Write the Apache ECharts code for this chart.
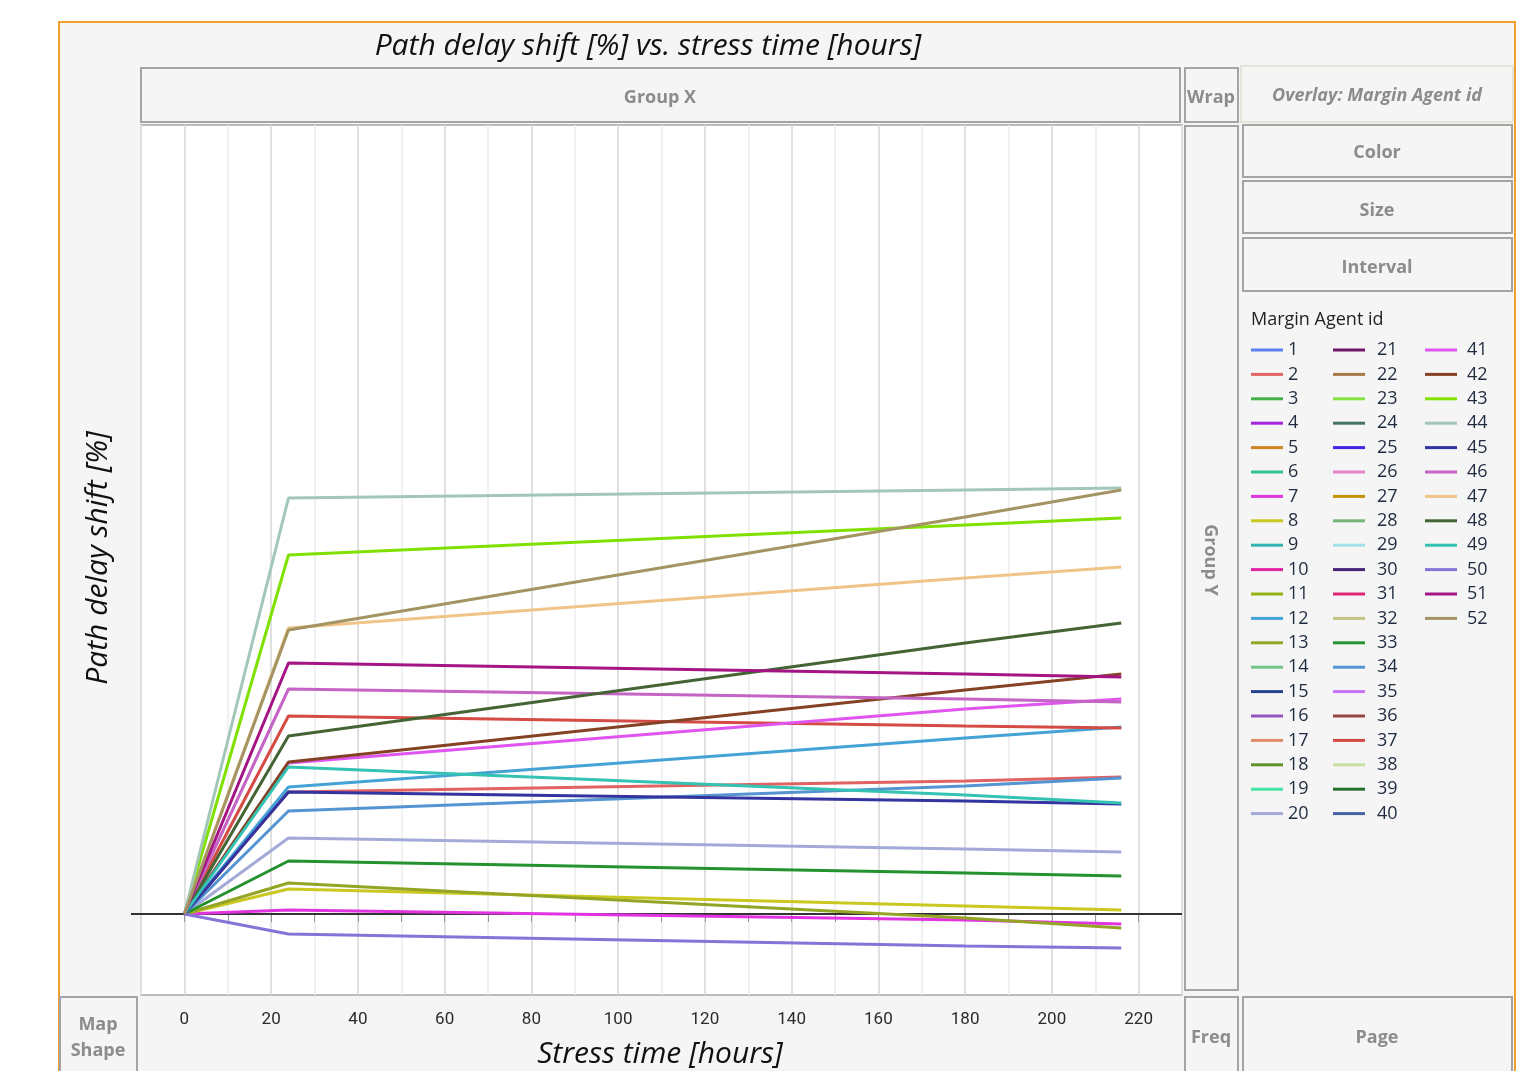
<!DOCTYPE html>
<html>
<head>
<meta charset="utf-8">
<script src="https://cdn.jsdelivr.net/npm/echarts@6/dist/echarts.min.js"></script>
<style>
html,body{margin:0;padding:0;background:#fff;}
#c{width:1537px;height:1071px;}
</style>
</head>
<body>
<div id="c"></div>
<script>
// ---- data ----
const hours = [0, 24, 180, 216];
const xTickLabels = ['0','20','40','60','80','100','120','140','160','180','200','220'];
const agentIds = ['1','2','3','4','5','6','7','8','9','10','11','12','13','14','15','16','17','18','19','20',
  '21','22','23','24','25','26','27','28','29','30','31','32','33','34','35','36','37','38','39','40',
  '41','42','43','44','45','46','47','48','49','50','51','52'];
const agentColors = ['#5b80ee','#e06262','#44b04a','#a424e0','#d08424','#34c096','#e034e0','#c8c820','#34b2b2','#e024a0',
  '#94b414','#44a2d4','#94a424','#74c488','#24428e','#9454c0','#e28a6a','#64902a','#44e4a4','#a4aad8',
  '#701466','#a87844','#84e444','#447464','#4424e4','#e084c4','#c09404','#74b474','#a4e0e8','#442474',
  '#e02474','#c4c484','#24922e','#5494d0','#c474f4','#944444','#d44a44','#c8e0a4','#24722e','#4462a4',
  '#e054f0','#844224','#80e000','#a2c6b8','#3434a0','#c464c4','#f0c488','#446434','#34c2b2','#8474d8',
  '#a41484','#a49464'];
// zero-shift reference line (value 0 across the frame)
const zeroLine = [[0, 0], [1, 0]];

// Path delay shift [%] per agent at hours 0, 24, 180, 216
const agent2  = [0, 1.22, 1.33, 1.37];
const agent7  = [0, 0.04, -0.06, -0.10];
const agent8  = [0, 0.25, 0.08, 0.04];
const agent12 = [0, 1.27, 1.76, 1.87];
const agent13 = [0, 0.31, -0.04, -0.14];
const agent20 = [0, 0.76, 0.65, 0.62];
const agent33 = [0, 0.53, 0.41, 0.38];
const agent34 = [0, 1.03, 1.28, 1.36];
const agent37 = [0, 1.98, 1.88, 1.86];
const agent41 = [0, 1.51, 2.05, 2.15];
const agent42 = [0, 1.52, 2.24, 2.40];
const agent43 = [0, 3.59, 3.89, 3.96];
const agent44 = [0, 4.16, 4.24, 4.26];
const agent45 = [0, 1.22, 1.13, 1.10];
const agent46 = [0, 2.25, 2.15, 2.12];
const agent47 = [0, 2.86, 3.36, 3.47];
const agent48 = [0, 1.78, 2.71, 2.91];
const agent49 = [0, 1.47, 1.19, 1.11];
const agent50 = [0, -0.20, -0.32, -0.34];
const agent51 = [0, 2.51, 2.40, 2.37];
const agent52 = [0, 2.84, 3.97, 4.24];

const valuesById = {
  '2': agent2, '7': agent7, '8': agent8, '12': agent12, '13': agent13, '20': agent20,
  '33': agent33, '34': agent34, '37': agent37, '41': agent41, '42': agent42, '43': agent43,
  '44': agent44, '45': agent45, '46': agent46, '47': agent47, '48': agent48, '49': agent49,
  '50': agent50, '51': agent51, '52': agent52
};

// ---- chart ----
const chart = echarts.init(document.getElementById('c'), null, {renderer: 'canvas'});
const UI = '"Open Sans", "Noto Sans", sans-serif';
const grey = '#8c8c8c';
const Y_MIN = -0.81, Y_MAX = 7.89;

const series = [{
  name: 'zero', type: 'line', xAxisIndex: 1, yAxisIndex: 1,
  symbol: 'none', silent: true, animation: false, z: 3,
  lineStyle: {color: '#333', width: 2},
  data: zeroLine
}].concat(agentIds.map((id, i) => {
  const vals = valuesById[id] || [];
  return {
    name: id,
    type: 'line',
    color: agentColors[i],
    symbol: 'none',
    showSymbol: false,
    lineStyle: {width: 3},
    animation: false,
    data: vals.map((v, k) => [hours[k], v])
  };
}));

function legendCol(ids, left, pad) {
  return {
    orient: 'vertical', left: left, top: 340, padding: 0,
    itemWidth: 32, itemHeight: 3, itemGap: 4.4, icon: 'rect',
    selectedMode: false,
    data: ids,
    textStyle: {fontFamily: UI, fontSize: 18, lineHeight: 20, color: '#1f2b40', padding: [0, 0, 0, pad]}
  };
}

function box(x, y, w, h, stroke) {
  return {type: 'rect', shape: {x: x, y: y, width: w, height: h},
    style: {fill: '#f5f5f5', stroke: stroke || '#a4a4a4', lineWidth: 2}, silent: true};
}
function label(x, y, txt, opts) {
  return Object.assign({type: 'text', x: x, y: y, silent: true,
    style: Object.assign({text: txt, fill: grey, font: 'bold 18px ' + UI, align: 'center', verticalAlign: 'middle'}, (opts && opts.style) || {})},
    (opts && opts.el) || {});
}

const option = {
  backgroundColor: '#ffffff',
  animation: false,
  grid: [
    {left: 141, right: 355, top: 125, bottom: 76, show: true, backgroundColor: '#ffffff', borderColor: '#a8a8a8', borderWidth: 1.5},
    {left: 131, right: 355, top: 125, bottom: 76, show: false}
  ],
  xAxis: [{
    type: 'value', min: -10, max: 230, interval: 10, gridIndex: 0,
    axisLine: {show: false},
    axisTick: {show: true, inside: false, length: 8, lineStyle: {color: '#9a9a9a'}},
    axisLabel: {
      margin: 16, fontFamily: '"Roboto", sans-serif', fontSize: 17, color: '#2a2a2a',
      showMinLabel: false, showMaxLabel: false,
      formatter: v => (xTickLabels.indexOf(String(v)) >= 0 ? String(v) : '')
    },
    splitLine: {show: true, lineStyle: {color: ['#ececec', '#d6d6d6'], width: 1.5}}
  }, {
    type: 'value', min: 0, max: 1, gridIndex: 1, show: false
  }],
  yAxis: [{
    type: 'value', min: Y_MIN, max: Y_MAX, gridIndex: 0,
    axisLine: {show: false}, axisLabel: {show: false}, axisTick: {show: false}, splitLine: {show: false}
  }, {
    type: 'value', min: Y_MIN, max: Y_MAX, gridIndex: 1, show: false, splitLine: {show: false}
  }],
  legend: [
    legendCol(agentIds.slice(0, 20), 1251, 0),
    legendCol(agentIds.slice(20, 40), 1333, 7),
    legendCol(agentIds.slice(40), 1425, 5)
  ],
  graphic: {elements: [
    {type: 'rect', z: -100, shape: {x: 59, y: 22, width: 1456, height: 1060},
      style: {fill: '#f5f5f5', stroke: '#f0a030', lineWidth: 2}, silent: true},
    {type: 'text', x: 648, y: 46, silent: true,
      style: {text: 'Path delay shift [%] vs. stress time [hours]', fill: '#111', font: 'italic 30px ' + UI, align: 'center', verticalAlign: 'middle'}},
    box(141, 68, 1039, 54),
    label(660, 98, 'Group X'),
    box(1185, 68, 53, 54),
    label(1211, 98, 'Wrap'),
    box(1241, 66, 272, 56, '#e4e4dc'),
    label(1377, 96, 'Overlay: Margin Agent id', {style: {font: 'italic bold 18px ' + UI}}),
    box(1243, 125, 269, 52),
    label(1377, 153, 'Color'),
    box(1243, 181, 269, 52),
    label(1377, 211, 'Size'),
    box(1243, 238, 269, 53),
    label(1377, 268, 'Interval'),
    box(1185, 126, 53, 864),
    label(1210, 560, 'Group Y', {el: {rotation: -Math.PI / 2}}),
    {type: 'text', x: 1251, y: 320, silent: true,
      style: {text: 'Margin Agent id', fill: '#222', font: '18px ' + UI, align: 'left', verticalAlign: 'middle'}},
    {type: 'text', x: 98, y: 558, rotation: Math.PI / 2, silent: true,
      style: {text: 'Path delay shift [%]', fill: '#111', font: 'italic 30px ' + UI, align: 'center', verticalAlign: 'middle'}},
    {type: 'text', x: 660, y: 1054, silent: true,
      style: {text: 'Stress time [hours]', fill: '#111', font: 'italic 30px ' + UI, align: 'center', verticalAlign: 'middle'}},
    box(60, 997, 77, 80),
    label(98, 1025, 'Map'),
    label(98, 1051, 'Shape'),
    box(1185, 997, 53, 80),
    label(1211, 1038, 'Freq'),
    box(1243, 997, 269, 80),
    label(1377, 1038, 'Page')
  ]},
  series: series
};
chart.setOption(option);
</script>
</body>
</html>
